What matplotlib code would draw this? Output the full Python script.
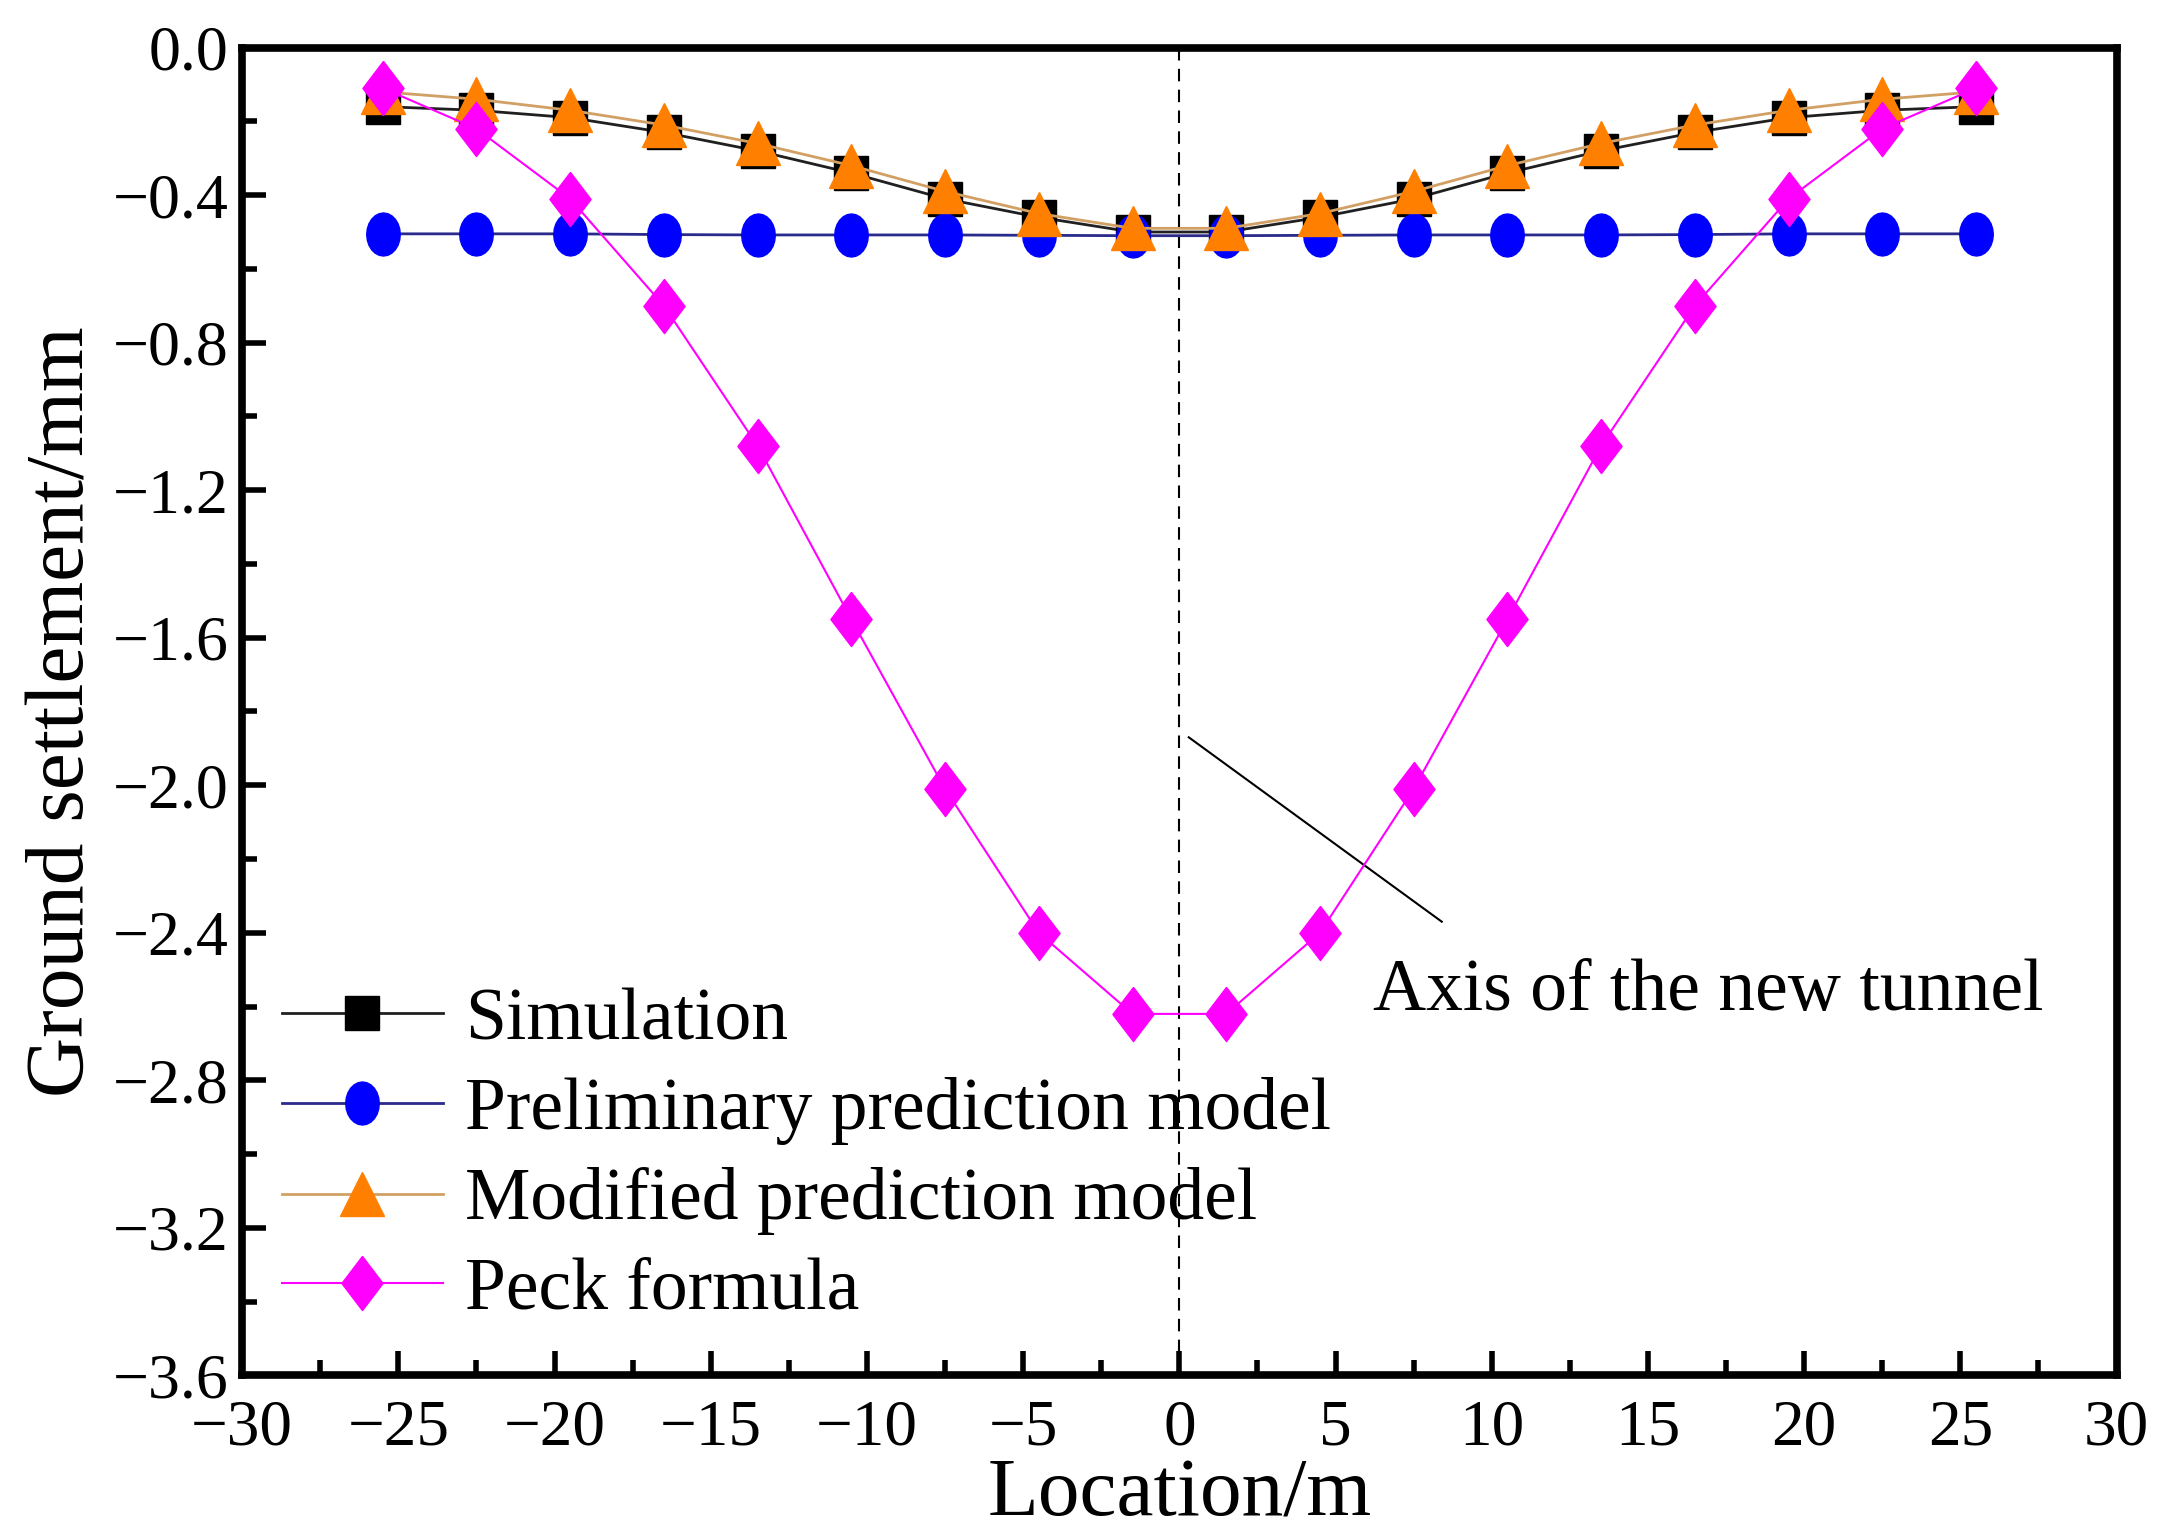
import math
import matplotlib
matplotlib.use("Agg")
import matplotlib.pyplot as plt
from matplotlib.ticker import MultipleLocator, FuncFormatter

plt.rcParams['font.family'] = ['Liberation Serif', 'DejaVu Serif']

# data
location = [-25.5, -22.5, -19.5, -16.5, -13.5, -10.5, -7.5, -4.5, -1.5,
            1.5, 4.5, 7.5, 10.5, 13.5, 16.5, 19.5, 22.5, 25.5]
simulation = [-0.16, -0.17, -0.19, -0.23, -0.28, -0.34, -0.41, -0.46, -0.50,
              -0.50, -0.46, -0.41, -0.34, -0.28, -0.23, -0.19, -0.17, -0.16]
preliminary = [-0.505, -0.505, -0.505, -0.507, -0.508, -0.508, -0.508, -0.509, -0.510,
               -0.510, -0.509, -0.508, -0.508, -0.508, -0.507, -0.505, -0.505, -0.505]
modified = [-0.12, -0.14, -0.17, -0.21, -0.26, -0.32, -0.39, -0.45, -0.49,
            -0.49, -0.45, -0.39, -0.32, -0.26, -0.21, -0.17, -0.14, -0.12]
peck = [-0.11, -0.22, -0.41, -0.70, -1.08, -1.55, -2.01, -2.40, -2.62,
        -2.62, -2.40, -2.01, -1.55, -1.08, -0.70, -0.41, -0.22, -0.11]

series_names = ['Simulation', 'Preliminary prediction model',
                'Modified prediction model', 'Peck formula']

axis_line_x = [0, 0]
axis_line_y = [0.0, -3.6]
pointer_x = [0.3, 8.4]
pointer_y = [-1.87, -2.37]
note_xy = (6.2, -2.56)
note_text = 'Axis of the new tunnel'

# slightly squashed markers like the original picture
ell = [(0.78 * math.cos(t / 24 * 2 * math.pi), math.sin(t / 24 * 2 * math.pi)) for t in range(25)]
dia = [(0, 1), (0.76, 0), (0, -1), (-0.76, 0), (0, 1)]


def minus_fmt(v, pos):
    return ('%.1f' % v).replace('-', '\u2212')


fig = plt.figure(figsize=(21.62, 15.35), dpi=100)
ax = fig.add_axes([0.112, 0.104, 0.867, 0.865])

ax.plot(axis_line_x, axis_line_y, color='black', lw=1.5, ls=(0, (6, 4)), zorder=1)

ax.plot(location, simulation, color='#202020', lw=2, marker='s', ms=24,
        mfc='black', mec='black', label=series_names[0], zorder=3)
ax.plot(location, preliminary, color='#2a2a8c', lw=2, marker=ell, ms=31,
        mfc='#0000ff', mec='#0000ff', label=series_names[1], zorder=3)
ax.plot(location, modified, color='#d2a064', lw=2, marker='^', ms=31,
        mfc='#ff8000', mec='#ff8000', label=series_names[2], zorder=4)
ax.plot(location, peck, color='#ff00ff', lw=1.5, marker=dia, ms=39,
        mfc='#ff00ff', mec='#ff00ff', label=series_names[3], zorder=5)

ax.plot(pointer_x, pointer_y, color='black', lw=1.5, zorder=2)
ax.text(note_xy[0], note_xy[1], note_text, fontsize=53, va='center', ha='left')

ax.set_xlim(-30, 30)
ax.set_ylim(-3.6, 0.0)
ax.xaxis.set_major_locator(MultipleLocator(5))
ax.xaxis.set_minor_locator(MultipleLocator(2.5))
ax.yaxis.set_major_locator(MultipleLocator(0.4))
ax.yaxis.set_minor_locator(MultipleLocator(0.2))
ax.yaxis.set_major_formatter(FuncFormatter(minus_fmt))
ax.tick_params(which='both', direction='in', top=False, right=False)
ax.tick_params(which='major', length=17, width=4)
ax.tick_params(which='minor', length=11, width=4)
ax.tick_params(axis='y', pad=10, labelsize=46)
ax.tick_params(axis='x', pad=17, labelsize=47)
for s in ax.spines.values():
    s.set_linewidth(5.5)

ax.set_xlabel('Location/m', fontsize=60, labelpad=0)
ax.set_ylabel('Ground settlement/mm', fontsize=60, labelpad=8)

ax.legend(loc='upper left', bbox_to_anchor=(0.021, 0.292), frameon=False,
          fontsize=53, borderpad=0, borderaxespad=0, handlelength=2.2,
          handletextpad=0.29, labelspacing=0.3)

fig.savefig('out.png', dpi=100)
